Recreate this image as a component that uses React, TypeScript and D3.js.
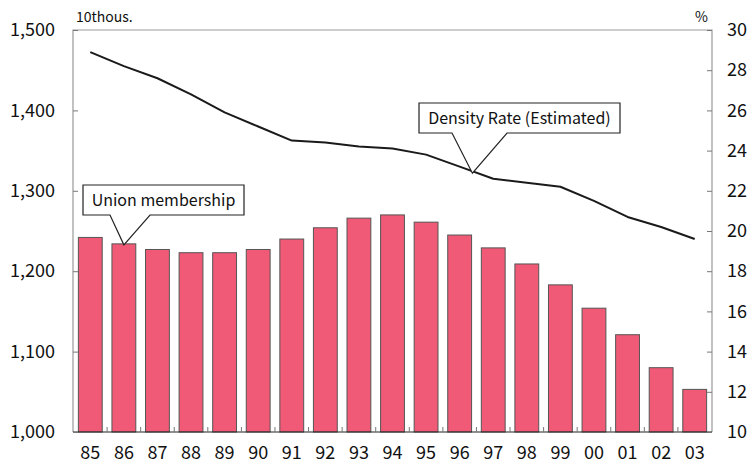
import { useEffect, useRef } from 'react';
import * as d3 from 'd3';

const years = ['85', '86', '87', '88', '89', '90', '91', '92', '93', '94', '95', '96', '97', '98', '99', '00', '01', '02', '03'];
const membership = [1242, 1234, 1227, 1223, 1223, 1227, 1240, 1254, 1266, 1270, 1261, 1245, 1229, 1209, 1183, 1154, 1121, 1080, 1053];
const density = [28.9, 28.2, 27.6, 26.8, 25.9, 25.2, 24.5, 24.4, 24.2, 24.1, 23.8, 23.2, 22.6, 22.4, 22.2, 21.5, 20.7, 20.2, 19.6];
const leftTicks = [1000, 1100, 1200, 1300, 1400, 1500];
const rightTicks = [10, 12, 14, 16, 18, 20, 22, 24, 26, 28, 30];

export default function App() {
  const svgRef = useRef<SVGSVGElement>(null);

  useEffect(() => {
    const width = 756;
    const height = 469;
    const margin = { top: 30, right: 44, bottom: 37, left: 73 };
    const innerWidth = width - margin.left - margin.right;
    const innerHeight = height - margin.top - margin.bottom;
    const font = '"Noto Sans CJK JP", "Noto Sans", sans-serif';

    const root = d3.select(svgRef.current);
    root.selectAll('*').remove();
    root.attr('width', width).attr('height', height);

    const svg = root.append('g').attr('transform', `translate(${margin.left},${margin.top})`);

    const x = d3.scaleBand().domain(years).range([0, innerWidth]).paddingInner(0.29).paddingOuter(0.16);
    const yL = d3.scaleLinear().domain([1000, 1500]).range([innerHeight, 0]);
    const yR = d3.scaleLinear().domain([10, 30]).range([innerHeight, 0]);

    // Barras
    svg.selectAll('rect.bar')
      .data(years)
      .enter()
      .append('rect')
      .attr('class', 'bar')
      .attr('x', d => x(d)!)
      .attr('y', (d, i) => yL(membership[i]))
      .attr('width', x.bandwidth())
      .attr('height', (d, i) => innerHeight - yL(membership[i]))
      .attr('fill', '#f05a76')
      .attr('stroke', '#555')
      .attr('stroke-width', 1);

    // Frame
    svg.append('path')
      .attr('d', `M0,${innerHeight}V0H${innerWidth}V${innerHeight}`)
      .attr('fill', 'none')
      .attr('stroke', '#999')
      .attr('stroke-width', 1.2);
    svg.append('line')
      .attr('x1', 0).attr('x2', innerWidth)
      .attr('y1', innerHeight).attr('y2', innerHeight)
      .attr('stroke', '#222')
      .attr('stroke-width', 1.2);

    // Eixos
    const left = svg.append('g').call(d3.axisLeft(yL).tickValues(leftTicks).tickSizeInner(-5).tickSizeOuter(0).tickPadding(18).tickFormat(d3.format(',')));
    const right = svg.append('g').attr('transform', `translate(${innerWidth},0)`)
      .call(d3.axisRight(yR).tickValues(rightTicks).tickSizeInner(-5).tickSizeOuter(0).tickPadding(15));
    const step = x.step();
    const bottom = svg.append('g').attr('transform', `translate(0,${innerHeight})`)
      .call(d3.axisBottom(x).tickSizeInner(0).tickSizeOuter(0).tickPadding(14));

    [left, right, bottom].forEach(g => {
      g.select('.domain').remove();
      g.selectAll('line').attr('stroke', '#777');
      g.selectAll('text').attr('font-family', font).attr('font-size', '18px').attr('fill', '#111');
    });

    // small ticks between bars
    svg.selectAll('line.sep')
      .data(years.slice(1))
      .enter()
      .append('line')
      .attr('class', 'sep')
      .attr('x1', d => x(d)! - (step - x.bandwidth()) / 2)
      .attr('x2', d => x(d)! - (step - x.bandwidth()) / 2)
      .attr('y1', innerHeight)
      .attr('y2', innerHeight - 5)
      .attr('stroke', '#777');

    // Linha
    const line = d3.line<number>()
      .x((d, i) => x(years[i])! + x.bandwidth() / 2)
      .y(d => yR(d))
      .curve(d3.curveLinear);
    svg.append('path')
      .datum(density)
      .attr('d', line)
      .attr('fill', 'none')
      .attr('stroke', '#1a1a1a')
      .attr('stroke-width', 2)
      .attr('stroke-linejoin', 'round');

    // unit labels
    root.append('text').attr('x', margin.left + 3).attr('y', 22).text('10thous.')
      .attr('font-family', font).attr('font-size', '14px').attr('fill', '#111');
    root.append('text').attr('x', margin.left + innerWidth - 4).attr('y', 22).attr('text-anchor', 'end').text('%')
      .attr('font-family', font).attr('font-size', '14px').attr('fill', '#111');

    // Callouts
    const callout = (label: string, bx: number, by: number, bw: number, bh: number, b1: number, b2: number, tip: [number, number]) => {
      const g = root.append('g');
      g.append('path')
        .attr('d', `M${bx},${by}H${bx + bw}V${by + bh}H${b2}L${tip[0]},${tip[1]}L${b1},${by + bh}H${bx}Z`)
        .attr('fill', '#fff')
        .attr('stroke', '#222')
        .attr('stroke-width', 1.2);
      g.append('text')
        .attr('x', bx + bw / 2)
        .attr('y', by + bh / 2 + 5.5)
        .attr('text-anchor', 'middle')
        .attr('font-family', font)
        .attr('font-size', '16px')
        .attr('fill', '#111')
        .text(label);
    };

    const t1x = margin.left + x('86')! + x.bandwidth() / 2;
    callout('Union membership', 83, 185, 161, 30, 110, 150, [t1x, margin.top + yL(membership[1]) + 1]);
    // tip sits on the line between 96 and 97
    const c96 = x('96')! + x.bandwidth() / 2;
    const t2x = margin.left + c96 + step * 0.38;
    const t2y = margin.top + yR(density[11] + (density[12] - density[11]) * 0.38) + 2;
    callout('Density Rate (Estimated)', 419, 103, 201, 30, 452, 507, [t2x, t2y]);
  }, []);

  return <svg ref={svgRef} style={{ display: 'block', margin: '-8px' }}></svg>;
}
